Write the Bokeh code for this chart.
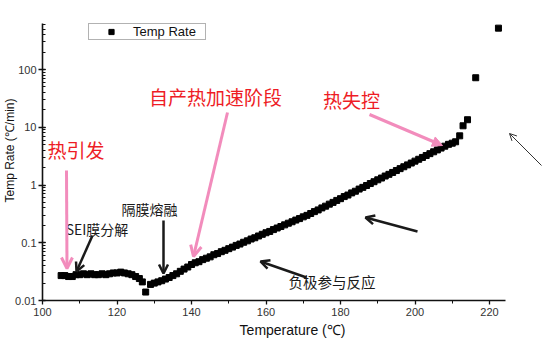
import math
from bokeh.plotting import figure
from bokeh.models import (Arrow, OpenHead, NormalHead, Label, FixedTicker, LogTicker,
                          CustomJSTickFormatter, Range1d)
from bokeh.embed import file_html
from bokeh.resources import INLINE

# ---------------- data ----------------
temperature = [105, 106, 107, 108, 109, 110, 111, 112, 113, 114, 115, 116, 117, 118, 119,
               120, 121, 122, 123, 124, 125, 126, 126.8, 127.7,
               129, 130, 131, 132, 133, 134, 135, 136, 137, 138, 139,
               140, 141, 142, 143, 144, 145, 146, 147, 148, 149,
               150, 151, 152, 153, 154, 155, 156, 157, 158, 159,
               160, 161, 162, 163, 164, 165, 166, 167, 168, 169,
               170, 171, 172, 173, 174, 175, 176, 177, 178, 179,
               180, 181, 182, 183, 184, 185, 186, 187, 188, 189,
               190, 191, 192, 193, 194, 195, 196, 197, 198, 199,
               200, 201, 202, 203, 204, 205, 206, 207, 208, 209,
               210, 210.9, 212.0, 212.9, 214.1, 216.3, 222.4]
temp_rate = [0.027, 0.027, 0.026, 0.026, 0.028, 0.028, 0.029, 0.028, 0.029, 0.028, 0.028,
             0.029, 0.028, 0.029, 0.030, 0.030, 0.031, 0.030, 0.029, 0.028, 0.026, 0.024,
             0.021, 0.014,
             0.019, 0.020, 0.021, 0.022, 0.0235, 0.025, 0.027, 0.029, 0.032, 0.035, 0.038,
             0.042, 0.045, 0.047, 0.051, 0.054, 0.057, 0.062, 0.065, 0.070, 0.074,
             0.079, 0.084, 0.090, 0.095, 0.102, 0.108, 0.116, 0.122, 0.131, 0.140,
             0.149, 0.157, 0.169, 0.180, 0.191, 0.204, 0.218, 0.231, 0.247, 0.262,
             0.281, 0.298, 0.321, 0.346, 0.370, 0.401, 0.430, 0.466, 0.500, 0.541,
             0.58, 0.63, 0.67, 0.73, 0.78, 0.85, 0.91, 0.98, 1.06, 1.14,
             1.23, 1.32, 1.43, 1.53, 1.65, 1.78, 1.92, 2.07, 2.23, 2.40,
             2.59, 2.79, 3.00, 3.24, 3.49, 3.76, 4.05, 4.36, 4.70, 5.06,
             5.3, 5.6, 7.1, 10.6, 13.5, 72, 520]

x_ticks = [100, 120, 140, 160, 180, 200, 220]
x_minor_ticks = [110, 130, 150, 170, 190, 210]
series_name = "Temp Rate"
x_title = "Temperature (℃)"
y_title = "Temp Rate (℃/min)"

# ---------------- layout ----------------
W, H = 542, 352
L, R, T, B = 42, 505, 23, 300          # axis extents in pixels
PX_PER_DEG = 3.725
PX_PER_DECADE = 57.75
x0 = 100.0
x_axis_end = x0 + (R - L) / PX_PER_DEG
y0 = 0.01
y_axis_end = 10 ** (math.log10(y0) + (B - T) / PX_PER_DECADE)


def dx(px):
    return x0 + (px - L) / PX_PER_DEG


def dy(py):
    return 10 ** (math.log10(y0) + (B - py) / PX_PER_DECADE)


# frame extends to the right and top edges of the canvas; axis lines are bounded
p = figure(width=W, height=H, x_range=Range1d(x0, dx(W)), y_range=Range1d(y0, dy(0)),
           y_axis_type="log", output_backend="svg", toolbar_location=None,
           min_border_left=L, min_border_right=0, min_border_top=0,
           min_border_bottom=H - B)
p.outline_line_color = None
p.xgrid.visible = False
p.ygrid.visible = False
p.background_fill_color = "white"
p.border_fill_color = "white"

FONT = "Liberation Sans"
CJK = "Noto Sans CJK SC"

# axes
xa = p.xaxis[0]
xa.ticker = FixedTicker(ticks=x_ticks, minor_ticks=x_minor_ticks)
xa.bounds = (x0, x_axis_end)
ya = p.yaxis[0]
ya.ticker = LogTicker(num_minor_ticks=10)
ya.bounds = (y0, y_axis_end)
ya.formatter = CustomJSTickFormatter(
    code="return tick >= 1 ? tick.toFixed(0) : Number(tick.toPrecision(2)).toString();")
for ax in (xa, ya):
    ax.axis_line_width = 1.6
    ax.axis_line_color = "#111111"
    ax.major_tick_line_color = "#111111"
    ax.minor_tick_line_color = "#111111"
    ax.major_tick_line_width = 1.3
    ax.minor_tick_line_width = 1
    ax.major_label_text_font = FONT
    ax.major_label_text_font_size = "11px"
    ax.major_label_text_color = "#333333"
    ax.axis_label_text_font = FONT
    ax.axis_label_text_font_style = "normal"
    ax.axis_label_text_color = "#111111"
xa.major_label_standoff = 3
ya.major_label_standoff = 2
xa.major_tick_out = 4
xa.major_tick_in = 0
xa.minor_tick_out = 3
xa.minor_tick_in = 0
ya.major_tick_out = 4
ya.major_tick_in = 3
ya.minor_tick_out = 0
ya.minor_tick_in = 3
xa.axis_label = x_title
xa.axis_label_text_font_size = "14px"
xa.axis_label_standoff = 3
ya.axis_label = y_title
ya.axis_label_text_font_size = "12px"
ya.axis_label_standoff = -5

# data
p.scatter(temperature, temp_rate, marker="square", size=6, color="black",
          legend_label=series_name)

lg = p.legend[0]
lg.location = (88 - L, B - 40)
lg.border_line_color = "#666666"
lg.border_line_width = 1
lg.background_fill_color = "white"
lg.padding = 0
lg.margin = 0
lg.spacing = 0
lg.glyph_width = 44
lg.glyph_height = 13
lg.label_height = 13
lg.label_width = 72
lg.label_standoff = 0
lg.label_text_font = FONT
lg.label_text_font_size = "13px"
lg.label_text_color = "#111111"
lg.label_text_baseline = "middle"

RED = "#ee1c25"
PINK = "#f28cbc"
DARK = "#1a1a1a"

texts = [
    ("热引发", 75.5, 149, "19px", RED),
    ("自产热加速阶段", 215, 96, "19px", RED),
    ("热失控", 351, 99, "19px", RED),
    ("SEI膜分解", 96.5, 228, "14px", DARK),
    ("隔膜熔融", 149, 208, "14px", DARK),
    ("负极参与反应", 331.5, 281, "14.5px", DARK),
]
for t, cx, cy, fs, col in texts:
    p.add_layout(Label(x=dx(cx), y=dy(cy), text=t, text_font=CJK, text_font_size=fs,
                       text_color=col, text_align="center", text_baseline="middle"))

arrows = [
    (66, 170, 66.5, 268, PINK, 3, "open", 11),
    (227, 112, 193, 256, PINK, 3, "open", 11),
    (369, 114, 442, 145, PINK, 3, "normal", 10),
    (92, 235, 76, 271, DARK, 2.5, "open", 9),
    (163, 220, 163, 273, DARK, 2.5, "open", 9),
    (306, 277, 260, 261, DARK, 2.5, "open", 9),
    (417, 231, 365, 217, DARK, 2.5, "open", 9),
    (541, 165, 509, 133, "#333333", 1, "open", 7),
]
for xs, ys, xe, ye, col, lw, kind, sz in arrows:
    if kind == "open":
        head = OpenHead(size=sz, line_color=col, line_width=lw)
    else:
        head = NormalHead(size=sz, line_color=col, fill_color=col, line_width=1)
    p.add_layout(Arrow(x_start=dx(xs), y_start=dy(ys), x_end=dx(xe), y_end=dy(ye),
                       line_color=col, line_width=lw, end=head))

open("out.html", "w").write(file_html(p, INLINE))
